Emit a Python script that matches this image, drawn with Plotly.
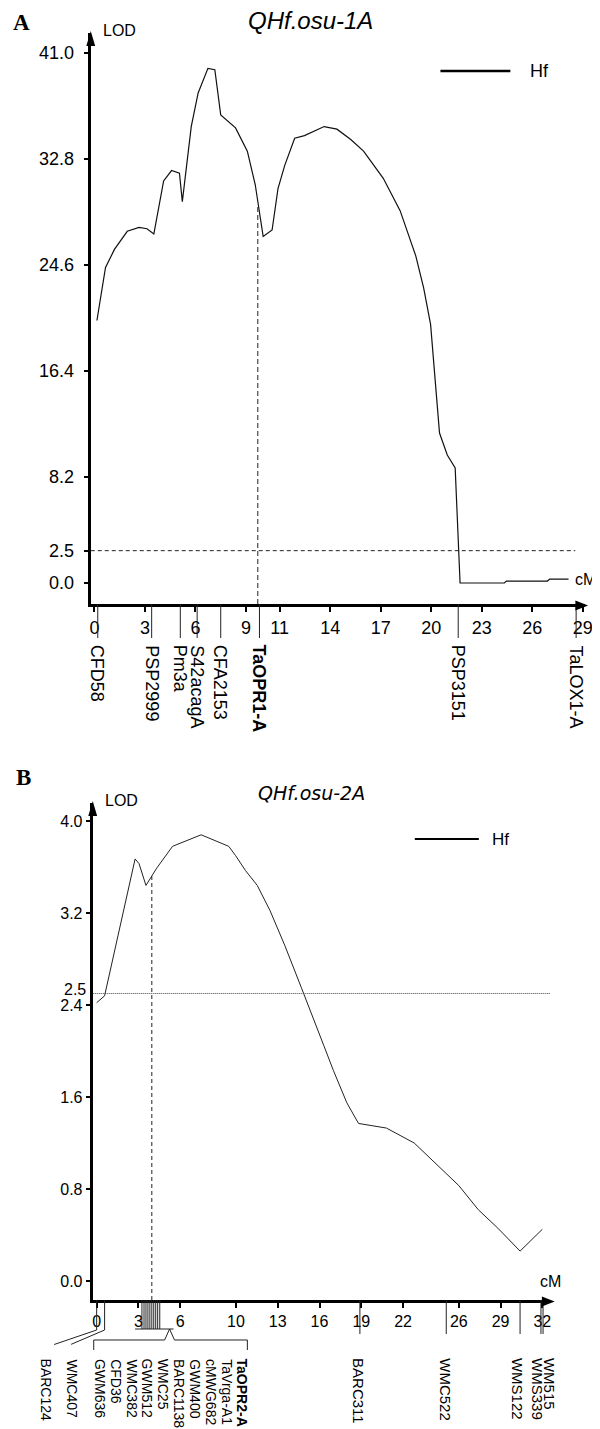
import plotly.graph_objects as go

W, H = 600, 1429

# ---------------- Data: panel A (QHf.osu-1A) ----------------
a_cm = [0.15, 0.66, 1.19, 1.95, 2.65, 3.12, 3.53, 4.11, 4.58, 5.05,
        5.22, 5.75, 6.16, 6.74, 7.15, 7.50, 8.38, 9.08, 9.55, 10.02,
        10.55, 10.90, 11.30, 11.89, 12.47, 13.64, 14.40, 15.22, 15.98, 17.15,
        18.15, 19.08, 19.55, 19.96, 20.49, 20.95, 21.42, 21.71, 24.34, 24.46,
        26.90, 27.03, 28.15]
a_lod = [20.3, 24.4, 25.8, 27.2, 27.5, 27.4, 27.0, 31.1, 31.9, 31.7,
         29.5, 35.3, 37.9, 39.8, 39.7, 36.2, 35.2, 33.4, 30.8, 26.8,
         27.3, 30.5, 32.3, 34.4, 34.6, 35.3, 35.1, 34.3, 33.4, 31.3,
         28.8, 25.3, 22.8, 20.0, 11.6, 9.9, 8.9, 0.0, 0.0, 0.15,
         0.15, 0.3, 0.3]
a_xticks = [0, 3, 6, 9, 11, 14, 17, 20, 23, 26, 29]
a_yticks = [0.0, 2.5, 8.2, 16.4, 24.6, 32.8, 41.0]
a_markers = ["CFD58", "PSP2999", "Pm3a", "S42acagA", "CFA2153", "TaOPR1-A", "PSP3151", "TaLOX1-A"]
a_marker_cm = [0.2, 3.4, 5.1, 6.1, 7.5, 9.8, 21.6, 28.6]
a_threshold = 2.5
a_threshold_end = 28.55
a_qtl_cm, a_qtl_lod = 9.7, 29.2

# ---------------- Data: panel B (QHf.osu-2A) ----------------
b_cm = [0.0, 0.57, 2.76, 3.04, 3.54, 3.96, 4.31, 5.45, 7.5, 9.48,
        9.97, 10.68, 11.53, 12.45, 13.5, 14.7, 15.6, 16.3, 17.0, 17.96,
        18.8, 20.8, 22.8, 24.3, 26.0, 27.4, 28.8, 30.4, 32.0]
b_lod = [2.42, 2.48, 3.67, 3.63, 3.44, 3.52, 3.59, 3.78, 3.88, 3.78,
         3.70, 3.57, 3.44, 3.22, 2.92, 2.55, 2.26, 2.05, 1.83, 1.55,
         1.37, 1.33, 1.20, 1.03, 0.83, 0.62, 0.46, 0.26, 0.45]
b_xticks = [0, 3, 6, 10, 13, 16, 19, 22, 26, 29, 32]
b_yticks = [0.0, 0.8, 1.6, 2.4, 3.2, 4.0]
b_left_markers = ["BARC124", "WMC407"]
b_left_cm = [0.0, 0.57]
b_cluster_markers = ["GWM636", "CFD36", "WMC382", "GWM512", "WMC25", "BARC1138",
                     "GWM400", "cMWG682", "TaVrga-A1", "TaOPR2-A"]
b_cluster_cm = [3.25, 3.40, 3.54, 3.68, 3.82, 3.96, 4.10, 4.24, 4.38, 4.53]
b_right_markers = ["BARC311", "WMC522", "WMS122", "WMS339", "WM515"]
b_right_cm = [18.9, 25.1, 30.4, 31.9, 32.05]
b_threshold = 2.5
b_qtl_cm, b_qtl_lod = 3.96, 3.52

# ---------------- Layout geometry (pixels) ----------------
def px(x):
    return x / W

def py(y):
    return 1 - y / H

# Panel A
A_left, A_right, A_top, A_bot = 83, 585, 25, 596
A_x0px, A_xscale = 86.7, 17.1
A_y0px, A_yscale = 575, 12.93
# Panel B
B_left, B_right, B_top, B_bot = 85, 550, 795, 1292
B_x0px, B_xscale = 89, 14.14
B_y0px, B_yscale = 1273, 115.0

a_xr = [(A_left - A_x0px) / A_xscale, (A_right - A_x0px) / A_xscale]
a_yr = [-(A_bot - A_y0px) / A_yscale, (A_y0px - A_top) / A_yscale]
b_xr = [(B_left - B_x0px) / B_xscale, (B_right - B_x0px) / B_xscale]
b_yr = [-(B_bot - B_y0px) / B_yscale, (B_y0px - B_top) / B_yscale]

FONT = "Liberation Sans, Arial, sans-serif"

fig = go.Figure()
fig.add_trace(go.Scatter(x=a_cm, y=a_lod, mode="lines", xaxis="x", yaxis="y",
                         line=dict(color="#111", width=1.2), showlegend=False, hoverinfo="skip"))
fig.add_trace(go.Scatter(x=b_cm, y=b_lod, mode="lines", xaxis="x2", yaxis="y2",
                         line=dict(color="#222", width=1.0), showlegend=False, hoverinfo="skip"))

axis_common = dict(showline=True, linecolor="black", showgrid=False, zeroline=False,
                   ticks="outside", tickcolor="black", fixedrange=True)

fig.update_layout(
    width=W, height=H, margin=dict(l=0, r=0, t=0, b=0),
    paper_bgcolor="white", plot_bgcolor="white", showlegend=False,
    xaxis=dict(domain=[px(A_left), px(A_right)], range=a_xr, anchor="y",
               tickvals=a_xticks, ticktext=[str(v) for v in a_xticks],
               linewidth=3, ticklen=5, tickwidth=2,
               tickfont=dict(family=FONT, size=18, color="black"), **axis_common),
    yaxis=dict(domain=[py(A_bot), py(A_top)], range=a_yr, anchor="x",
               tickvals=a_yticks, ticktext=["%.1f" % v for v in a_yticks],
               linewidth=3, ticklen=4, tickwidth=2, ticklabelstandoff=6,
               tickfont=dict(family=FONT, size=18, color="black"), **axis_common),
    xaxis2=dict(domain=[px(B_left), px(B_right)], range=b_xr, anchor="y2",
                tickvals=b_xticks, ticktext=[str(v) for v in b_xticks],
                linewidth=3, ticklen=5, tickwidth=2,
                tickfont=dict(family=FONT, size=16, color="black"), **axis_common),
    yaxis2=dict(domain=[py(B_bot), py(B_top)], range=b_yr, anchor="x2",
                tickvals=b_yticks, ticktext=["%.1f" % v for v in b_yticks],
                linewidth=3, ticklen=4, tickwidth=2,
                tickfont=dict(family=FONT, size=16, color="black"), **axis_common),
)

shapes = []
ann = []

# ---- Panel A decorations ----
shapes.append(dict(type="line", xref="x", yref="y", x0=a_xr[0], x1=a_threshold_end,
                   y0=a_threshold, y1=a_threshold, line=dict(color="#222", width=1, dash="4px,3px")))
shapes.append(dict(type="line", xref="x", yref="y", x0=a_qtl_cm, x1=a_qtl_cm,
                   y0=a_yr[0], y1=a_qtl_lod, line=dict(color="#222", width=1, dash="5px,3px")))
for name, cm in zip(a_markers, a_marker_cm):
    shapes.append(dict(type="line", xref="x", yref="paper", x0=cm, x1=cm,
                       y0=py(A_bot), y1=py(630), line=dict(color="#222", width=1)))
    txt = "<b>%s</b>" % name if name == "TaOPR1-A" else name
    ann.append(dict(xref="x", yref="paper", x=cm, y=py(635), text=txt, showarrow=False,
                    textangle=90, xanchor="center", yanchor="top",
                    font=dict(family=FONT, size=18, color="black")))
shapes.append(dict(type="path", xref="paper", yref="paper", fillcolor="black", line=dict(width=0),
                   path="M %f,%f L %f,%f L %f,%f Z" % (px(A_left), py(A_top - 2), px(A_left - 4.5), py(A_top + 13),
                                                      px(A_left + 4.5), py(A_top + 13))))
shapes.append(dict(type="path", xref="paper", yref="paper", fillcolor="black", line=dict(width=0),
                   path="M %f,%f L %f,%f L %f,%f Z" % (px(A_right + 3), py(A_bot + 1.5), px(A_right - 10), py(A_bot - 3.5),
                                                      px(A_right - 10), py(A_bot + 6.5))))
shapes.append(dict(type="line", xref="paper", yref="paper", x0=px(438), x1=px(509), y0=py(63), y1=py(63),
                   line=dict(color="black", width=2.5)))
ann.append(dict(xref="paper", yref="paper", x=px(527), y=py(63), text="Hf", showarrow=False,
                xanchor="left", yanchor="middle", font=dict(family=FONT, size=18, color="black")))
ann.append(dict(xref="paper", yref="paper", x=px(306), y=py(13), text="<i>QHf.osu-1A</i>", showarrow=False,
                xanchor="center", yanchor="middle", font=dict(family=FONT, size=24, color="black")))
ann.append(dict(xref="paper", yref="paper", x=px(93), y=py(23), text="LOD", showarrow=False,
                xanchor="left", yanchor="middle", font=dict(family=FONT, size=16, color="black")))
ann.append(dict(xref="paper", yref="paper", x=px(598), y=py(571), text="cM", showarrow=False,
                xanchor="right", yanchor="middle", font=dict(family=FONT, size=16, color="black")))
ann.append(dict(xref="paper", yref="paper", x=px(2), y=py(14), text="<b>A</b>", showarrow=False,
                xanchor="left", yanchor="middle", font=dict(family="Liberation Serif, Times New Roman, serif", size=23, color="black")))

# ---- Panel B decorations ----
shapes.append(dict(type="line", xref="x2", yref="y2", x0=b_xr[0], x1=b_xr[1],
                   y0=b_threshold, y1=b_threshold, line=dict(color="#444", width=1, dash="1px,1px")))
shapes.append(dict(type="line", xref="x2", yref="y2", x0=b_qtl_cm, x1=b_qtl_cm,
                   y0=b_yr[0], y1=b_qtl_lod, line=dict(color="#222", width=1, dash="4px,3px")))
ann.append(dict(xref="paper", yref="y2", x=px(B_left - 5), y=b_threshold, yshift=4, text="2.5",
                showarrow=False, xanchor="right", yanchor="middle",
                font=dict(family=FONT, size=16, color="black")))
b_left_label_px = [38, 64]
b_left_tail = [(-44, 15), (-35, 15)]
LBL_B = 14
for name, cm, lp, (dx, dy) in zip(b_left_markers, b_left_cm, b_left_label_px, b_left_tail):
    shapes.append(dict(type="line", xref="x2", yref="paper", x0=cm, x1=cm,
                       y0=py(B_bot), y1=py(1322), line=dict(color="#222", width=1)))
    ann.append(dict(xref="x2", yref="paper", x=cm, y=py(1322), text=" ", showarrow=True,
                    arrowhead=0, arrowwidth=1, arrowcolor="#222", ax=dx, ay=dy, standoff=0, startstandoff=0,
                    font=dict(size=1)))
    ann.append(dict(xref="paper", yref="paper", x=px(lp), y=py(1349), text=name, showarrow=False,
                    textangle=90, xanchor="center", yanchor="top",
                    font=dict(family=FONT, size=LBL_B, color="black")))
for cm in b_cluster_cm:
    shapes.append(dict(type="line", xref="x2", yref="paper", x0=cm, x1=cm,
                       y0=py(B_bot), y1=py(1321), line=dict(color="#222", width=1)))
shapes.append(dict(type="line", xref="paper", yref="paper", x0=px(128), x1=px(167), y0=py(1321), y1=py(1321),
                   line=dict(color="#222", width=1)))
shapes.append(dict(type="path", xref="paper", yref="paper", line=dict(color="#222", width=1),
                   path="M %f,%f L %f,%f L %f,%f L %f,%f L %f,%f L %f,%f L %f,%f" % (
                       px(86), py(1342), px(86), py(1332), px(158), py(1332), px(163), py(1321),
                       px(168), py(1332), px(242), py(1332), px(242), py(1342))))
for i, name in enumerate(b_cluster_markers):
    txt = "<b>%s</b>" % name if name == "TaOPR2-A" else name
    ann.append(dict(xref="paper", yref="paper", x=px(93 + 16 * i), y=py(1349), text=txt, showarrow=False,
                    textangle=90, xanchor="center", yanchor="top",
                    font=dict(family=FONT, size=LBL_B, color="black")))
b_right_shift = [-1, -1, -2, -3, 7]
for name, cm, sh in zip(b_right_markers, b_right_cm, b_right_shift):
    shapes.append(dict(type="line", xref="x2", yref="paper", x0=cm, x1=cm,
                       y0=py(B_bot), y1=py(1326), line=dict(color="#222", width=1)))
    ann.append(dict(xref="x2", yref="paper", x=cm, xshift=sh, y=py(1348), text=name, showarrow=False,
                    textangle=90, xanchor="center", yanchor="top",
                    font=dict(family=FONT, size=LBL_B + 1, color="black")))
shapes.append(dict(type="path", xref="paper", yref="paper", fillcolor="black", line=dict(width=0),
                   path="M %f,%f L %f,%f L %f,%f Z" % (px(B_left), py(B_top - 2), px(B_left - 4.5), py(B_top + 13),
                                                      px(B_left + 4.5), py(B_top + 13))))
shapes.append(dict(type="path", xref="paper", yref="paper", fillcolor="black", line=dict(width=0),
                   path="M %f,%f L %f,%f L %f,%f Z" % (px(B_right + 4), py(B_bot + 1.5), px(B_right - 9), py(B_bot - 3.5),
                                                      px(B_right - 9), py(B_bot + 6.5))))
shapes.append(dict(type="line", xref="paper", yref="paper", x0=px(412), x1=px(477), y0=py(831), y1=py(831),
                   line=dict(color="black", width=2)))
ann.append(dict(xref="paper", yref="paper", x=px(488), y=py(831), text="Hf", showarrow=False,
                xanchor="left", yanchor="middle", font=dict(family=FONT, size=17, color="black")))
ann.append(dict(xref="paper", yref="paper", x=px(307), y=py(785), text="<i>QHf.osu-2A</i>", showarrow=False,
                xanchor="center", yanchor="middle", font=dict(family="DejaVu Sans, sans-serif", size=19, color="black")))
ann.append(dict(xref="paper", yref="paper", x=px(95), y=py(792), text="LOD", showarrow=False,
                xanchor="left", yanchor="middle", font=dict(family=FONT, size=16, color="black")))
ann.append(dict(xref="paper", yref="paper", x=px(537), y=py(1273), text="cM", showarrow=False,
                xanchor="left", yanchor="middle", font=dict(family=FONT, size=16, color="black")))
ann.append(dict(xref="paper", yref="paper", x=px(5), y=py(770), text="<b>B</b>", showarrow=False,
                xanchor="left", yanchor="middle", font=dict(family="Liberation Serif, Times New Roman, serif", size=23, color="black")))

fig.update_layout(shapes=shapes, annotations=ann)
fig.write_html("out.html")
